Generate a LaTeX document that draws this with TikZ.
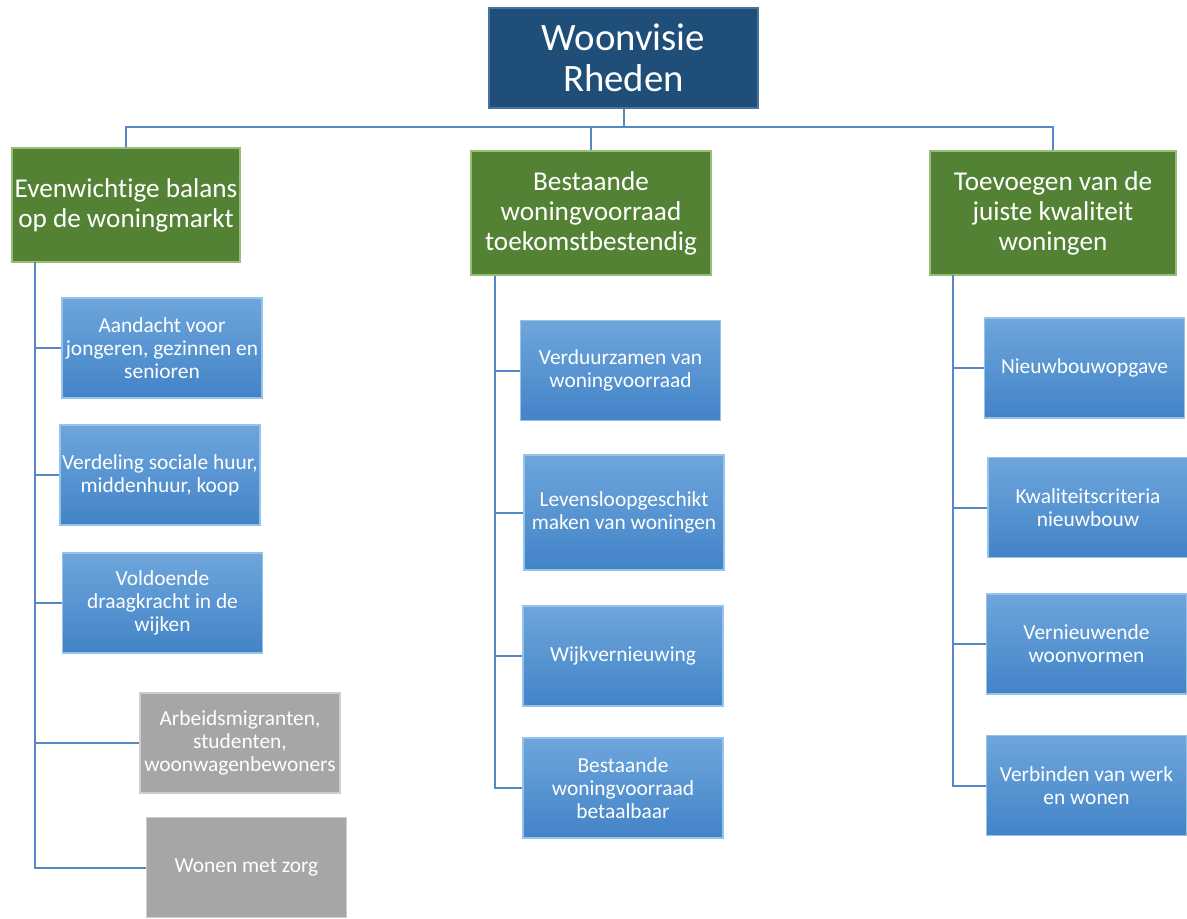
\documentclass[tikz,border=0pt]{standalone}
\usepackage{fontspec}
\setmainfont[Ligatures={NoCommon}]{Carlito}
\usepackage{xcolor}
\definecolor{topcol}{RGB}{31,78,121}
\definecolor{topedge}{RGB}{70,115,160}
\definecolor{greencol}{RGB}{84,130,53}
\definecolor{greenedge}{RGB}{150,190,120}
\definecolor{bluetop}{RGB}{110,166,220}
\definecolor{bluebot}{RGB}{66,131,199}
\definecolor{blueedge}{RGB}{150,195,235}
\definecolor{graycol}{RGB}{166,166,166}
\definecolor{grayedge}{RGB}{205,205,205}
\definecolor{linecol}{RGB}{84,135,195}

\begin{document}
\begin{tikzpicture}[x=0.5pt, y=-0.5pt,
                    conn/.style={draw=linecol, line width=1pt},
                    box/.style={rectangle, text=white, align=center, inner sep=1pt, line width=0.6pt},
                    topbox/.style={box, fill=topcol, draw=topedge, minimum width=134.5pt, minimum height=50pt,
                                   font=\fontsize{19.4}{20.5}\selectfont},
                    mainbox/.style={box, fill=greencol, draw=greenedge, minimum height=62pt,
                                    font=\fontsize{13.6}{15}\selectfont},
                    subbox/.style={box, top color=bluetop, bottom color=bluebot, draw=blueedge,
                                   minimum width=100pt, minimum height=50pt,
                                   font=\fontsize{10.7}{11.6}\selectfont},
                    otherbox/.style={subbox, top color=graycol, bottom color=graycol, draw=grayedge}]
  \useasboundingbox (0,0) rectangle (1187,918);

  \node[topbox] (top) at (623.5,58) {Woonvisie\\Rheden};

  \node[mainbox, minimum width=114pt, minimum height=57pt] (balans) at (126,205)
    {Evenwichtige balans\\op de woningmarkt};
  \node[mainbox, minimum width=120pt] (voorraad) at (591,213)
    {Bestaande\\woningvoorraad\\toekomstbestendig};
  \node[mainbox, minimum width=123pt] (kwaliteit) at (1053,213)
    {Toevoegen van de\\juiste kwaliteit\\woningen};

  \node[subbox] (aandacht) at (162,348) {Aandacht voor\\jongeren, gezinnen en\\senioren};
  \node[subbox] (verdeling) at (160,475) {Verdeling sociale huur,\\middenhuur, koop};
  \node[subbox] (draagkracht) at (162.5,603) {Voldoende\\draagkracht in de\\wijken};
  \node[otherbox] (migranten) at (240,743) {Arbeidsmigranten,\\studenten,\\woonwagenbewoners};
  \node[otherbox] (zorg) at (246.5,867.5) {Wonen met zorg};

  \node[subbox] (verduurzamen) at (620.5,370.5) {Verduurzamen van\\woningvoorraad};
  \node[subbox, minimum height=57.5pt] (levensloop) at (624,512.5) {Levensloopgeschikt\\maken van woningen};
  \node[subbox] (wijk) at (623,656) {Wijkvernieuwing};
  \node[subbox] (betaalbaar) at (623,788) {Bestaande\\woningvoorraad\\betaalbaar};

  \node[subbox] (nieuwbouw) at (1084.5,368) {Nieuwbouwopgave};
  \node[subbox] (criteria) at (1088,507.5) {Kwaliteitscriteria\\nieuwbouw};
  \node[subbox] (woonvormen) at (1086.5,644) {Vernieuwende\\woonvormen};
  \node[subbox] (werk) at (1086.5,785.5) {Verbinden van werk\\en wonen};

  \coordinate (bus) at (623.5,127);
  \coordinate (lspine) at (35,262);
  \coordinate (mspine) at (495,276);
  \coordinate (rspine) at (953,275);

  \draw[conn] (top.south) -- (bus);
  \draw[conn] (balans.north) |- (bus) -| (kwaliteit.north);
  \draw[conn] (bus) -| (voorraad.north);

  \draw[conn] (lspine) |- (zorg.west);
  \foreach \n in {aandacht, verdeling, draagkracht, migranten}
    \draw[conn] (lspine |- \n.west) -- (\n.west);

  \draw[conn] (mspine) |- (betaalbaar.west);
  \foreach \n in {verduurzamen, levensloop, wijk}
    \draw[conn] (mspine |- \n.west) -- (\n.west);

  \draw[conn] (rspine) |- (werk.west);
  \foreach \n in {nieuwbouw, criteria, woonvormen}
    \draw[conn] (rspine |- \n.west) -- (\n.west);
\end{tikzpicture}
\end{document}
